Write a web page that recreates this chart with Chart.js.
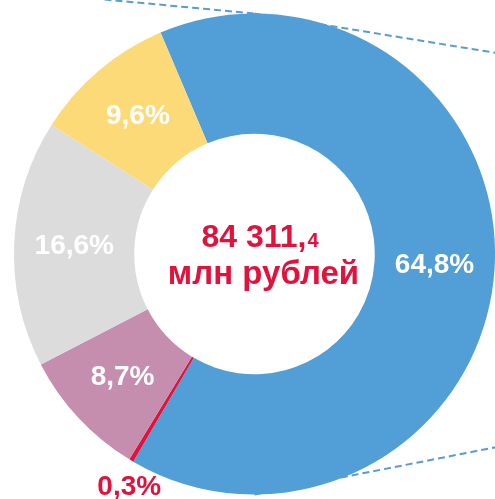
<!DOCTYPE html>
<html>
<head>
<meta charset="utf-8">
<script src="https://cdn.jsdelivr.net/npm/chart.js@4"></script>
<style>
  html, body { margin: 0; padding: 0; background: #fff; }
  #wrap { width: 495px; height: 499px; overflow: hidden; }
</style>
</head>
<body>
<div id="wrap"><canvas id="donut" width="495" height="499"></canvas></div>
<script>
// values (share of total, %)
const categories = ['Категория 1', 'Категория 2', 'Категория 3', 'Категория 4', 'Категория 5'];
const shares = [64.8, 0.3, 8.7, 16.6, 9.6];
const colors = ['#529ED6', '#E2123C', '#C58EAE', '#DCDCDC', '#FCDA78'];
const totalMain = '84 311,';
const totalFrac = '4';
const totalUnit = 'млн рублей';

const FONT = '"Liberation Sans", Arial, sans-serif';
const RED = '#E2123C';

function fmt(v) {
    return v.toFixed(1).replace('.', ',') + '%';
}

// dashed callout lines behind the ring
const calloutLines = {
    id: 'calloutLines',
    beforeDatasetsDraw(chart) {
        const arc = chart.getDatasetMeta(0).data[0];
        if (!arc) return;
        const { x, y, outerRadius } = arc.getProps(['x', 'y', 'outerRadius'], true);
        const ctx = chart.ctx;
        const topY = y - outerRadius;
        const botY = y + outerRadius;
        ctx.save();
        ctx.strokeStyle = '#5B9BD5';
        ctx.lineWidth = 2;
        ctx.setLineDash([7, 4]);
        ctx.beginPath();
        ctx.moveTo(x - 150, topY - 14);
        ctx.lineTo(x, topY);
        ctx.moveTo(x, topY);
        ctx.lineTo(x + 245, topY + 40);
        ctx.moveTo(x, botY);
        ctx.lineTo(x + 245, botY - 48);
        ctx.stroke();
        ctx.restore();
    }
};

// percentage labels and centre text
const donutText = {
    id: 'donutText',
    afterDatasetsDraw(chart) {
        const ctx = chart.ctx;
        const meta = chart.getDatasetMeta(0);
        ctx.save();
        ctx.textAlign = 'center';
        ctx.textBaseline = 'middle';
        meta.data.forEach((arc, i) => {
            const p = arc.getProps(['x', 'y', 'startAngle', 'endAngle', 'innerRadius', 'outerRadius'], true);
            const mid = (p.startAngle + p.endAngle) / 2;
            ctx.font = 'bold 28px ' + FONT;
            if (shares[i] < 2) {
                // tiny slice: label outside, under the outer edge
                const ox = p.x + Math.cos(mid) * p.outerRadius;
                const oy = p.y + Math.sin(mid) * p.outerRadius;
                ctx.fillStyle = RED;
                ctx.fillText(fmt(shares[i]), ox - 2, oy + 27);
            } else {
                const r = (p.innerRadius + p.outerRadius) / 2;
                ctx.fillStyle = '#ffffff';
                ctx.fillText(fmt(shares[i]), p.x + Math.cos(mid) * r, p.y + Math.sin(mid) * r);
            }
        });

        const c = meta.data[0].getProps(['x', 'y'], true);
        ctx.fillStyle = RED;
        ctx.textBaseline = 'alphabetic';
        ctx.textAlign = 'left';
        ctx.font = 'bold 32px ' + FONT;
        const w1 = ctx.measureText(totalMain).width;
        ctx.font = 'bold 20px ' + FONT;
        const w2 = ctx.measureText(totalFrac).width;
        const sx = c.x + 5 - (w1 + w2) / 2;
        ctx.font = 'bold 32px ' + FONT;
        ctx.fillText(totalMain, sx, c.y - 7);
        ctx.font = 'bold 20px ' + FONT;
        ctx.fillText(totalFrac, sx + w1 + 1, c.y - 7);
        ctx.textAlign = 'center';
        ctx.font = 'bold 33px ' + FONT;
        ctx.fillText(totalUnit, c.x + 9, c.y + 30);
        ctx.restore();
    }
};

const ctx = document.getElementById('donut');
new Chart(ctx, {
    type: 'doughnut',
    data: {
        labels: categories,
        datasets: [{
            data: shares,
            backgroundColor: colors,
            borderWidth: 0,
            hoverOffset: 0
        }]
    },
    options: {
        responsive: false,
        animation: false,
        cutout: '50%',
        rotation: -23,
        layout: {
            padding: { left: 14, top: 13, right: 0, bottom: 4 }
        },
        plugins: {
            legend: { display: false },
            tooltip: { enabled: false }
        }
    },
    plugins: [calloutLines, donutText]
});
</script>
</body>
</html>
